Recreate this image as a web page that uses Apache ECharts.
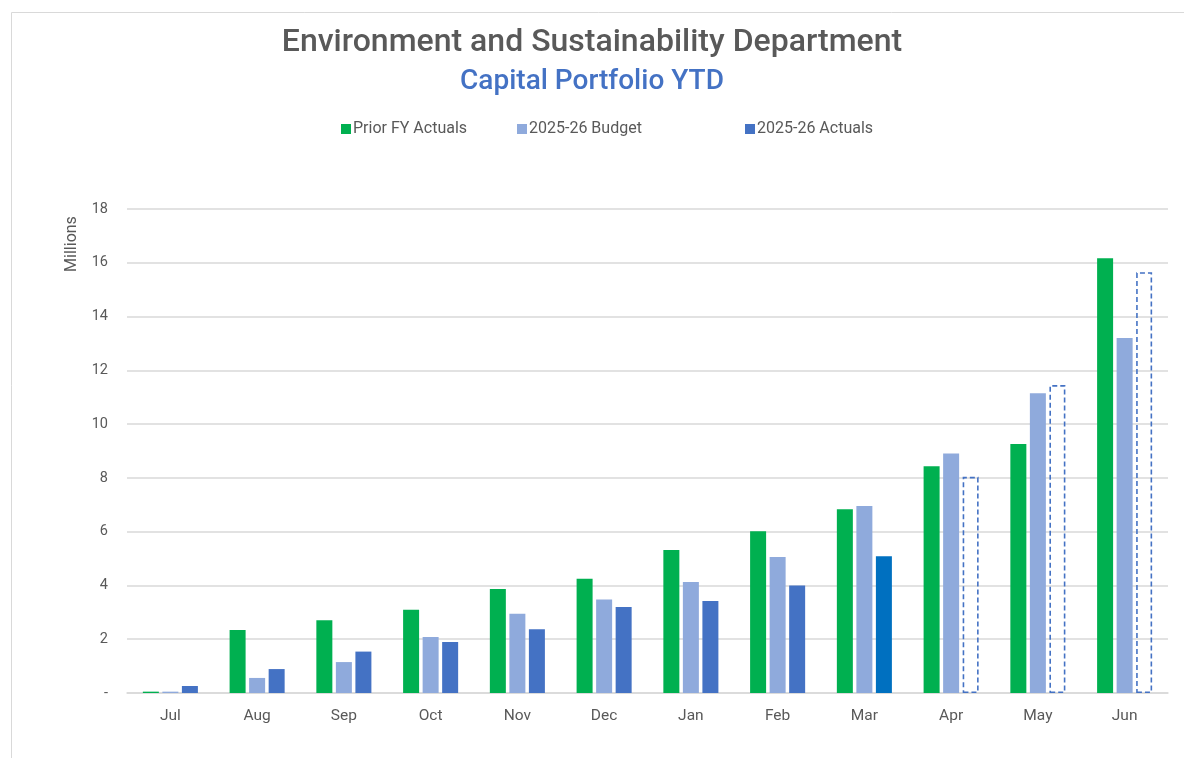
<!DOCTYPE html>
<html><head><meta charset="utf-8">
<script src="https://cdn.jsdelivr.net/npm/echarts@6/dist/echarts.min.js"></script>
<style>html,body{margin:0;padding:0;background:#fff}#c{width:1184px;height:758px}</style>
</head><body><div id="c"></div>
<script>
const months = ['Jul','Aug','Sep','Oct','Nov','Dec','Jan','Feb','Mar','Apr','May','Jun'];
const priorFY = [0.05,2.34,2.71,3.10,3.87,4.25,5.32,6.02,6.83,8.43,9.26,16.17];
const budget = [0.05,0.56,1.15,2.08,2.95,3.48,4.13,5.06,6.95,8.91,11.15,13.20];
const actuals = [0.26,0.89,1.54,1.90,2.37,3.20,3.42,4.00,5.09,8.04,11.45,15.65];
const yTicks = [0,2,4,6,8,10,12,14,16,18];
const seriesNames = ['Prior FY Actuals','2025-26 Budget','2025-26 Actuals'];
const forecastFrom = 9; // Apr onwards drawn as dashed outline
const currentMonth = 8; // Mar highlighted

const actualData = actuals.map((v,i)=>{
  if(i>=forecastFrom) return {value:v,itemStyle:{color:'rgba(255,255,255,0)',borderColor:'#4472C4',borderType:[5,3],borderWidth:1.6}};
  if(i===currentMonth) return {value:v,itemStyle:{color:'#0070C0'}};
  return v;
});

const chart = echarts.init(document.getElementById('c'));
const txt = '#595959';
const ff = 'Roboto, "Noto Sans", sans-serif';
const legendLefts = [336,512,740];
chart.setOption({
  animation:false,
  textStyle:{fontFamily:ff},
  title:[
    {text:'Environment and Sustainability Department',left:'center',top:22,textStyle:{fontSize:32,fontWeight:500,color:txt,fontFamily:ff}},
    {text:'Capital Portfolio YTD',left:'center',top:63,textStyle:{fontSize:28,fontWeight:500,color:'#4472C4',fontFamily:ff}}
  ],
  legend:seriesNames.map((n,i)=>({top:116,left:legendLefts[i],itemWidth:10,itemHeight:10,icon:'rect',
    textStyle:{fontSize:16,color:txt,fontFamily:ff,padding:[0,0,0,-3]},data:[n]})),
  graphic:[
    {type:'rect',left:9,top:10,silent:true,shape:{width:1200,height:800},style:{fill:'none',stroke:'#d9d9d9',lineWidth:1}},
    {type:'text',x:72,y:244,rotation:Math.PI/2,
    style:{text:'Millions',fill:txt,font:'16px Roboto, "Noto Sans", sans-serif',align:'center',verticalAlign:'middle'}}],
  grid:{left:127,right:16,top:209,bottom:65},
  xAxis:{type:'category',data:months,axisTick:{show:false},
    axisLine:{lineStyle:{color:'#d9d9d9',width:1.5}},
    axisLabel:{color:txt,fontSize:15.5,margin:15,fontFamily:ff}},
  yAxis:{type:'value',min:0,max:18,interval:2,
    axisLine:{show:false},axisTick:{show:false},
    splitLine:{lineStyle:{color:'#d9d9d9',width:1.5}},
    axisLabel:{color:txt,fontSize:14.5,margin:19,fontFamily:ff,formatter:v=>yTicks.includes(v)?(v===0?'-':String(v)):''}},
  series:[
    {name:seriesNames[0],type:'bar',data:priorFY,barWidth:16,barGap:'22%',itemStyle:{color:'#00B050'}},
    {name:seriesNames[1],type:'bar',data:budget,barWidth:16,barGap:'22%',itemStyle:{color:'#8FAADC'}},
    {name:seriesNames[2],type:'bar',data:actualData,barWidth:16,barGap:'22%',itemStyle:{color:'#4472C4'}}
  ]
});
</script></body></html>
